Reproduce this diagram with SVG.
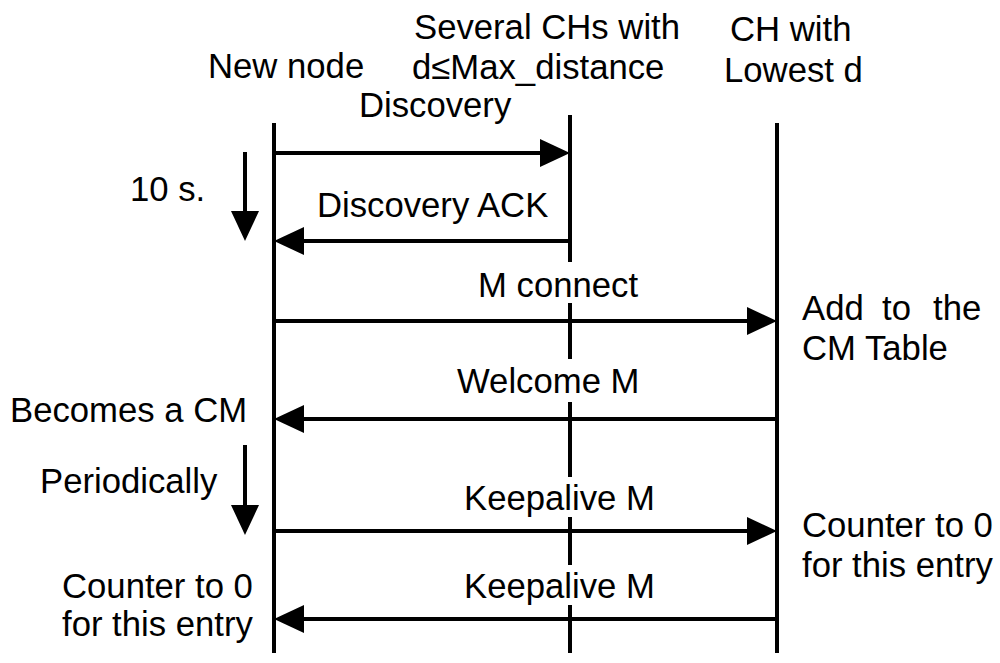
<svg xmlns="http://www.w3.org/2000/svg" width="1000" height="663" viewBox="0 0 1000 663">
<style>
text{font-family:"Liberation Sans",Arial,sans-serif;font-size:34.7px;fill:#000}
.life{stroke:#000;stroke-width:4;fill:none}
.msg{stroke:#000;stroke-width:4;fill:none;marker-end:url(#ah)}
</style>
<defs>
<marker id="ah" markerUnits="userSpaceOnUse" markerWidth="30" markerHeight="28" refX="10" refY="14" orient="auto" overflow="visible">
<path d="M0,0 L30,14 L0,28 Z" fill="#000"/>
</marker>
</defs>
<rect width="1000" height="663" fill="#fff"/>
<g id="node-new">
<text x="208" y="78">New node</text>
<line class="life" x1="274" y1="123" x2="274" y2="653"/>
</g>
<g id="node-several">
<text x="414" y="39">Several CHs with</text>
<text x="412" y="79">d≤Max_distance</text>
<line class="life" x1="570" y1="115" x2="570" y2="262"/>
<line class="life" x1="570" y1="303" x2="570" y2="359"/>
<line class="life" x1="570" y1="402" x2="570" y2="477"/>
<line class="life" x1="570" y1="517" x2="570" y2="565"/>
<line class="life" x1="570" y1="605" x2="570" y2="653"/>
</g>
<g id="node-lowest">
<text x="730" y="41">CH with</text>
<text x="724" y="82">Lowest d</text>
<line class="life" x1="777" y1="123" x2="777" y2="653"/>
</g>
<g id="connectors">
<line class="msg" x1="274" y1="153" x2="550" y2="153"/>
<line class="msg" x1="570" y1="241" x2="294" y2="241"/>
<line class="msg" x1="274" y1="321" x2="757" y2="321"/>
<line class="msg" x1="777" y1="419" x2="294" y2="419"/>
<line class="msg" x1="274" y1="531" x2="757" y2="531"/>
<line class="msg" x1="777" y1="619" x2="294" y2="619"/>
<line class="msg" x1="245" y1="152" x2="245" y2="221"/>
<line class="msg" x1="245" y1="445" x2="245" y2="515"/>
</g>
<g id="labels">
<text x="359" y="117">Discovery</text>
<text x="317" y="217">Discovery ACK</text>
<text x="478" y="297">M connect</text>
<text x="457" y="393">Welcome M</text>
<text x="464" y="510">Keepalive M</text>
<text x="464" y="598">Keepalive M</text>
<text x="130" y="201">10 s.</text>
<text x="10" y="422">Becomes a CM</text>
<text x="40" y="493">Periodically</text>
<text x="62" y="598">Counter to 0</text>
<text x="62" y="636">for this entry</text>
<text y="320"><tspan x="802">Add</tspan><tspan x="882">to</tspan><tspan x="933">the</tspan></text>
<text x="802" y="360">CM Table</text>
<text x="802" y="537">Counter to 0</text>
<text x="802" y="577">for this entry</text>
</g>
</svg>
